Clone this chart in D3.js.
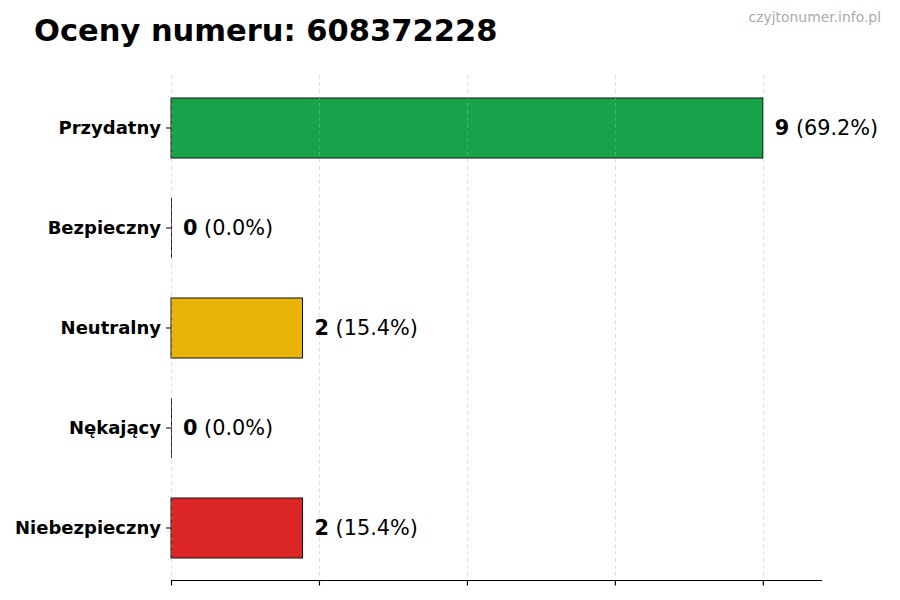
<!DOCTYPE html>
<html>
<head>
<meta charset="utf-8">
<script src="https://cdn.jsdelivr.net/npm/d3@7"></script>
<style>
  body { margin: 0; background: #fff; }
  svg { display: block; font-family: "DejaVu Sans", sans-serif; }
</style>
</head>
<body>
<div id="chart"></div>
<script>
// ratings for the number
var categories = ['Przydatny', 'Bezpieczny', 'Neutralny', 'Nękający', 'Niebezpieczny'];
var counts = [9, 0, 2, 0, 2];
var percents = ['69.2%', '0.0%', '15.4%', '0.0%', '15.4%'];
var colors = ['#16a34a', '#16a34a', '#eab308', '#dc2626', '#dc2626'];
var xTicks = [0, 2.25, 4.5, 6.75, 9];

var width = 900, height = 600;
var margin = {top: 75, right: 78, bottom: 20, left: 171};
var plotW = width - margin.left - margin.right;
var plotH = height - margin.top - margin.bottom;

var svg = d3.select('#chart').append('svg')
    .attr('width', width)
    .attr('height', height);

svg.append('text')
    .attr('x', 34)
    .attr('y', 41)
    .attr('font-size', 30.5)
    .attr('font-weight', 'bold')
    .text('Oceny numeru: 608372228');

svg.append('text')
    .attr('x', 881)
    .attr('y', 22)
    .attr('text-anchor', 'end')
    .attr('font-size', 13.9)
    .attr('fill', '#aaaaaa')
    .text('czyjtonumer.info.pl');

var g = svg.append('g')
    .attr('transform', 'translate(' + margin.left + ',' + margin.top + ')');

var x = d3.scaleLinear().domain([0, d3.max(counts) * 1.1]).range([0, plotW]);
var y = d3.scaleBand().domain(categories).range([3, 503])
    .paddingInner(0.4).paddingOuter(0.2);

var data = categories.map(function (c, i) {
    return {name: c, value: counts[i], pct: percents[i], color: colors[i]};
});

// bars
g.selectAll('.bar')
    .data(data)
    .enter().append('rect')
    .attr('class', 'bar')
    .attr('x', x(0))
    .attr('y', function (d) { return y(d.name); })
    .attr('width', function (d) { return x(d.value); })
    .attr('height', y.bandwidth())
    .attr('fill', function (d) { return d.color; })
    .attr('stroke', '#111')
    .attr('stroke-width', 1);

// zero bars still show their edge
g.selectAll('.zero')
    .data(data.filter(function (d) { return d.value === 0; }))
    .enter().append('line')
    .attr('x1', x(0) + 0.5)
    .attr('x2', x(0) + 0.5)
    .attr('y1', function (d) { return y(d.name); })
    .attr('y2', function (d) { return y(d.name) + y.bandwidth(); })
    .attr('stroke', '#222')
    .attr('stroke-width', 1);

// grid on top, faint
g.selectAll('.grid')
    .data(xTicks)
    .enter().append('line')
    .attr('class', 'grid')
    .attr('x1', function (d) { return Math.round(x(d)) + 0.5; })
    .attr('x2', function (d) { return Math.round(x(d)) + 0.5; })
    .attr('y1', 0)
    .attr('y2', plotH)
    .attr('stroke', '#b0b0b0')
    .attr('stroke-opacity', 0.5)
    .attr('stroke-dasharray', '4,3')
    .attr('stroke-width', 0.8);

// x axis, no labels
var xAxis = g.append('g')
    .attr('transform', 'translate(0,' + (plotH + 0.5) + ')')
    .call(d3.axisBottom(x).tickValues(xTicks).tickSize(5).tickFormat(''));
xAxis.select('.domain').attr('d', 'M0,0H' + plotW).attr('stroke', '#000').attr('stroke-width', 1.2);
xAxis.selectAll('.tick line').attr('stroke', '#000').attr('stroke-width', 1.2);

// y axis: ticks and labels, no spine
var yAxis = g.append('g')
    .call(d3.axisLeft(y).tickSize(5).tickPadding(5));
yAxis.select('.domain').remove();
yAxis.selectAll('.tick line').attr('stroke', '#000').attr('stroke-width', 1);
yAxis.selectAll('.tick text')
    .attr('font-family', '"DejaVu Sans", sans-serif')
    .attr('font-size', 18)
    .attr('font-weight', 'bold')
    .attr('fill', '#000');

// value labels
var labels = g.selectAll('.value')
    .data(data)
    .enter().append('text')
    .attr('class', 'value')
    .attr('x', function (d) { return x(d.value) + 12; })
    .attr('y', function (d) { return y(d.name) + y.bandwidth() / 2; })
    .attr('dy', '0.36em')
    .attr('font-size', 20.8)
    .attr('fill', '#000');

labels.append('tspan')
    .attr('font-weight', 'bold')
    .text(function (d) { return d.value; });
labels.append('tspan')
    .text(function (d) { return ' (' + d.pct + ')'; });
</script>
</body>
</html>
